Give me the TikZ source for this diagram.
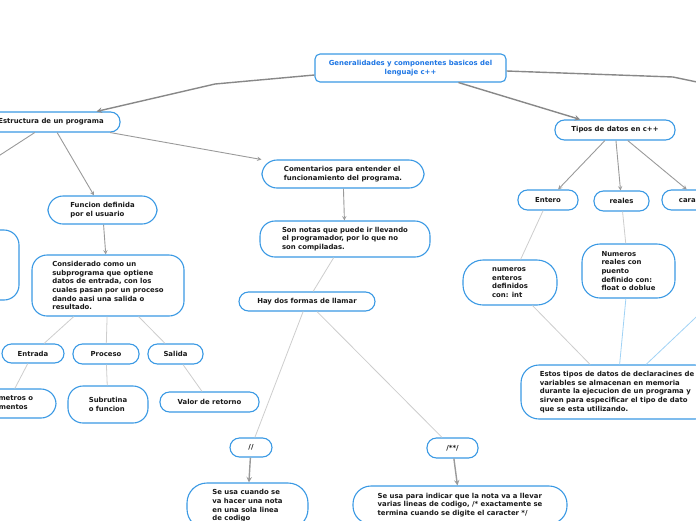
\documentclass[tikz,border=0pt]{standalone}
\usepackage{fontspec}
\setsansfont{DejaVu Sans}
\usetikzlibrary{arrows}
\definecolor{mmblue}{RGB}{58,153,228}
\definecolor{mmtitle}{RGB}{28,117,228}
\definecolor{lgray}{RGB}{136,136,136}
\definecolor{pgray}{RGB}{205,205,205}
\definecolor{lblue}{RGB}{160,210,245}
\tikzstyle{bubble} = [rectangle, rounded corners=15pt, draw=mmblue, line width=1.1pt, fill=white, align=left, text=black!90, font=\sffamily\bfseries\fontsize{6.9}{8.7}\selectfont, inner sep=0pt]
\tikzstyle{pill} = [bubble, rounded corners=9.5pt]
\tikzstyle{title} = [bubble, rounded corners=5pt, align=center, text=mmtitle]
\tikzstyle{arrow} = [lgray, line width=1.4pt, ->, >=stealth]
\tikzstyle{subarrow} = [lgray!85, line width=0.9pt, ->, >=stealth]
\tikzstyle{link} = [pgray, line width=0.8pt]
\tikzstyle{bluelink} = [lblue, line width=0.8pt]

\begin{document}
\begin{tikzpicture}
[x=1pt, y=-1pt]

\useasboundingbox (0,0) rectangle (696,520);
\clip (0,0) rectangle (696,520);

% top
\node (root) [title, minimum width=191pt, minimum height=28pt] at (410.5,68) {Generalidades y componentes basicos del\\lenguaje c++};
\node (estr) [pill, minimum width=138pt, minimum height=20pt] at (51,122) {Estructura de un programa};
\node (tipos) [pill, minimum width=120pt, minimum height=20pt] at (615,130) {Tipos de datos en c++};

% left branch
\node (coment) [bubble, minimum width=162pt, minimum height=28pt] at (343,174) {Comentarios para entender el\\funcionamiento del programa.};
\node (func) [bubble, minimum width=109pt, minimum height=28pt] at (102.5,210) {Funcion definida\\por el usuario};
\node (hidden) [bubble, minimum width=79pt, minimum height=70pt] at (-20.5,265) {};
\node (consid) [bubble, minimum width=152pt, minimum height=61pt] at (108,285.5) {Considerado como un\\subprograma que optiene\\datos de entrada, con los\\cuales pasan por un proceso\\dando aasi una salida o\\resultado.};
\node (entrada) [pill, minimum width=62pt, minimum height=19pt] at (33,353.5) {Entrada};
\node (proceso) [pill, minimum width=66pt, minimum height=20pt] at (106,354) {Proceso};
\node (salida) [pill, minimum width=55pt, minimum height=20pt] at (175.5,354) {Salida};
\node (param) [bubble, minimum width=98pt, minimum height=29pt] at (7,403.5) {Parametros o\\argumentos};
\node (subrut) [bubble, minimum width=80pt, minimum height=37pt] at (108,404.5) {Subrutina\\o funcion};
\node (valor) [pill, minimum width=99pt, minimum height=20pt] at (209.5,402) {Valor de retorno};

% comentarios
\node (notas) [bubble, minimum width=170pt, minimum height=36pt] at (345,239) {Son notas que puede ir llevando\\el programador, por lo que no\\son compiladas.};
\node (haydos) [pill, minimum width=136pt, minimum height=19pt] at (307,301.5) {Hay dos formas de llamar};
\node (linea) [pill, minimum width=42pt, minimum height=19pt] at (251,447.5) {//};
\node (bloque) [pill, minimum width=51pt, minimum height=20pt] at (452.5,448) {/**/};
\node (usalinea) [bubble, rounded corners=20pt, minimum width=121pt, minimum height=46pt] at (247.5,506) {Se usa cuando se\\va hacer una nota\\en una sola linea\\de codigo};
\node (usabloque) [bubble, rounded corners=18pt, minimum width=214pt, minimum height=38pt] at (460,505) {Se usa para indicar que la nota va a llevar\\varias lineas de codigo, /* exactamente se\\termina cuando se digite  el caracter */};

% tipos de datos
\node (entero) [pill, minimum width=60pt, minimum height=20pt] at (548,200) {Entero};
\node (reales) [pill, minimum width=55pt, minimum height=20pt] at (621.5,201) {reales};
\node (cara) [pill, minimum width=75pt, minimum height=20pt] at (699.5,200) {caracteres};
\node (nument) [bubble, rounded corners=20pt, minimum width=94pt, minimum height=45pt] at (510,282.5) {numeros\\enteros\\definidos\\con: int};
\node (numreal) [bubble, rounded corners=18pt, minimum width=93pt, minimum height=54pt] at (628.5,271) {Numeros\\reales con\\puento\\definido con:\\float o doblue};
\node (estos) [bubble, rounded corners=18pt, minimum width=192pt, minimum height=54pt] at (617,392) {Estos tipos de datos de declaracines de\\variables  se almacenan en memoria\\durante la ejecucion de un programa y\\sirven para especificar el tipo de dato\\que se esta utilizando.};

\coordinate (bendL) at (215,84);
\coordinate (bendR) at (673,77);
\coordinate (offR) at (740,91);
\coordinate (offL) at (-40,181);
\coordinate (offE) at (730,285);

\draw [arrow] ([yshift=-7pt]root.west) -- (bendL) -- (estr);
\draw [lgray, line width=1.4pt] ([yshift=-3pt]root.east) -- (bendR) -- (offR);
\draw [arrow] (root) -- (tipos);

\draw [subarrow] (estr) -- (coment);
\draw [subarrow] (estr) -- (func);
\draw [lgray!85, line width=0.9pt] (estr) -- (offL);
\draw [subarrow] (func) -- (consid);
\draw [link] (consid) -- (entrada);
\draw [link] (consid) -- (proceso);
\draw [link] (consid) -- (salida);
\draw [link] (entrada) -- (param);
\draw [link] (proceso) -- (subrut);
\draw [link] (salida) -- (valor);

\draw [subarrow] (coment) -- (notas);
\draw [link] (notas) -- (haydos);
\draw [link] (haydos) -- (linea);
\draw [link] (haydos) -- (bloque);
\draw [arrow, lgray!85] (linea) -- (usalinea);
\draw [arrow, lgray!85] (bloque) -- (usabloque);

\draw [subarrow] (tipos) -- (entero);
\draw [subarrow] (tipos) -- (reales);
\draw [subarrow] (tipos) -- (cara);
\draw [link] (entero) -- (nument);
\draw [link] (reales) -- (numreal);
\draw [link] (nument) -- (estos);
\draw [bluelink] (numreal) -- (estos);
\draw [bluelink] (offE) -- (estos);

\end{tikzpicture}
\end{document}
